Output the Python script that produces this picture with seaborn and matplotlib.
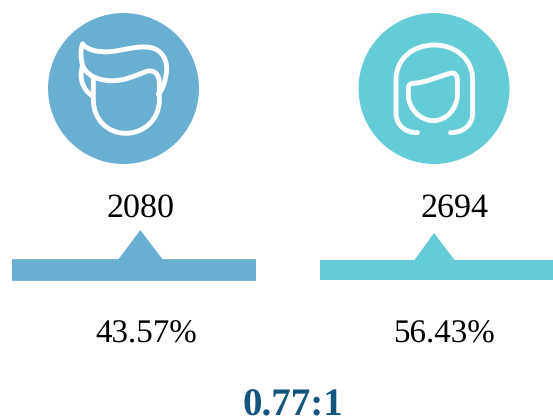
import seaborn as sns
import matplotlib.pyplot as plt
from matplotlib.patches import Circle, PathPatch, Polygon
from matplotlib.path import Path

# Dados
grupos = ["Male", "Female"]
totais = [2080, 2694]
percentuais = ["43.57%", "56.43%"]
razao = "0.77:1"

azul = "#69AFD2"
turquesa = "#64CCD6"
azul_escuro = "#15567F"

sns.set_style("white")
plt.rcParams['font.family'] = ['Liberation Serif', 'DejaVu Sans']
plt.rcParams['text.hinting'] = 'no_hinting'
plt.rcParams['text.hinting_factor'] = 1

fig = plt.figure(figsize=(5.53, 4.17), dpi=100)
ax = fig.add_axes([0, 0, 1, 1])


# curvas do icone: coordenadas do recorte ampliado 3x
def traco(ax, x0, inicio, curvas):
    verts = [inicio]
    codes = [Path.MOVETO]
    for c in curvas:
        verts += c
        codes += [Path.CURVE4] * 3
    verts = [(x0 + x / 3, y / 3) for x, y in verts]
    ax.add_patch(PathPatch(Path(verts, codes), fc="none", ec="white", lw=3.5, capstyle="round", joinstyle="round"))


# barras
sns.barplot(x=[244], y=[270], orient="h", native_scale=True, width=21.7, left=12, color=azul, saturation=1, ax=ax)
sns.barplot(x=[233], y=[270], orient="h", native_scale=True, width=20, left=320, color=turquesa, saturation=1, ax=ax)
for barra in ax.patches:
    barra.set_snap(False)
    barra.set_linewidth(0)
ax.add_patch(Polygon([(118.3, 259.5), (140.3, 230), (162.7, 259.5), (162.7, 263), (118.3, 263)], fc=azul, ec="none"))
ax.add_patch(Polygon([(414, 260.5), (434, 233), (455, 260.5), (455, 263), (414, 263)], fc=turquesa, ec="none"))

# circulos
ax.add_patch(Circle((123.5, 88.5), 75.5, fc=azul, ec="none"))
ax.add_patch(Circle((434, 88.5), 75.5, fc=turquesa, ec="none"))

# homem
traco(ax, 30, (158, 132), [
    [(172, 150), (205, 158), (240, 155)],
    [(285, 151), (340, 130), (378, 148)],
    [(405, 162), (415, 195), (408, 225)],
    [(404, 250), (398, 270), (385, 282)],
])
traco(ax, 30, (158, 132), [
    [(150, 150), (152, 175), (158, 197)],
    [(170, 225), (200, 240), (240, 242)],
    [(285, 244), (320, 225), (350, 214)],
    [(375, 208), (388, 225), (388, 250)],
    [(388, 265), (388, 285), (388, 300)],
    [(388, 360), (340, 400), (287, 400)],
    [(235, 400), (190, 360), (190, 300)],
    [(190, 280), (190, 260), (190, 238)],
])
traco(ax, 30, (158, 197), [
    [(145, 235), (160, 270), (186, 287)],
])

# mulher
traco(ax, 340, (232, 398), [
    [(190, 398), (168, 370), (168, 340)],
    [(168, 305), (168, 275), (168, 240)],
    [(168, 175), (220, 135), (283, 135)],
    [(345, 135), (398, 175), (398, 240)],
    [(398, 275), (398, 305), (398, 340)],
    [(398, 370), (375, 398), (332, 398)],
])
traco(ax, 340, (205, 265), [
    [(205, 255), (210, 251), (220, 250)],
    [(260, 247), (295, 230), (330, 220)],
    [(345, 216), (352, 226), (352, 240)],
    [(352, 255), (352, 270), (352, 285)],
    [(352, 325), (320, 362), (280, 362)],
    [(240, 362), (205, 325), (205, 285)],
    [(205, 278), (205, 272), (205, 265)],
])

# textos
ax.text(140.5, 217, str(totais[0]), fontsize=24.5, ha="center", va="baseline", color="black")
ax.text(454, 217, str(totais[1]), fontsize=24.5, ha="center", va="baseline", color="black")
ax.text(146, 343, percentuais[0], fontsize=23.5, ha="center", va="baseline", color="black")
ax.text(444, 343, percentuais[1], fontsize=23.5, ha="center", va="baseline", color="black")
ax.text(292.5, 415, razao, fontsize=28, fontweight="bold", ha="center", va="baseline", color=azul_escuro)

ax.set_xlim(0, 553)
ax.set_ylim(417, 0)
ax.set_aspect("equal")
ax.axis("off")

fig.savefig("out.png", dpi=100)
